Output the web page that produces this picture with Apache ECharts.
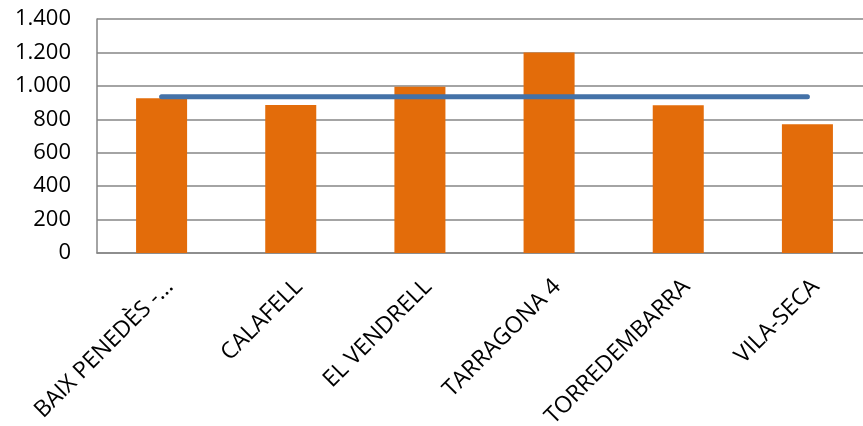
<!DOCTYPE html>
<html><head><meta charset="utf-8">
<script src="https://cdn.jsdelivr.net/npm/echarts@6/dist/echarts.min.js"></script>
<style>html,body{margin:0;padding:0;background:#fff}#c{width:863px;height:426px}</style>
</head><body><div id="c"></div>
<script>
const categories = ['BAIX PENEDÈS -...', 'CALAFELL', 'EL VENDRELL', 'TARRAGONA 4', 'TORREDEMBARRA', 'VILA-SECA'];
const barValues = [926, 886, 995, 1200, 884, 771];
const lineValues = [935, 935, 935, 935, 935, 935];
const yTicks = [0, 200, 400, 600, 800, 1000, 1200, 1400];

const chart = echarts.init(document.getElementById('c'));
chart.setOption({
  animation: false,
  grid: {left: 97, width: 775, top: 19, bottom: 173, outerBoundsMode: 'none', containLabel: false},
  xAxis: {
    type: 'category', data: categories,
    axisLine: {lineStyle: {color: '#868686', width: 1.5}},
    axisTick: {show: false},
    axisLabel: {rotate: 45, interval: 0, color: '#000', fontFamily: 'Open Sans', fontSize: 23,
      margin: 22, align: 'right', verticalAlign: 'top'}
  },
  yAxis: {
    type: 'value', min: 0, max: 1400, interval: 200,
    axisLine: {show: true, lineStyle: {color: '#868686', width: 1.5}},
    splitLine: {lineStyle: {color: '#868686', width: 1.5}},
    axisLabel: {color: '#000', fontFamily: 'Open Sans', fontSize: 22, margin: 26,
      formatter: v => yTicks.includes(v) ? v.toLocaleString('de-DE') : ''}
  },
  series: [
    {type: 'bar', data: barValues, barWidth: '39.5%', itemStyle: {color: '#E36C0A'}},
    {type: 'line', data: lineValues, symbol: 'none', lineStyle: {color: '#4472A8', width: 5, cap: 'round'}, z: 3}
  ]
});
</script></body></html>
